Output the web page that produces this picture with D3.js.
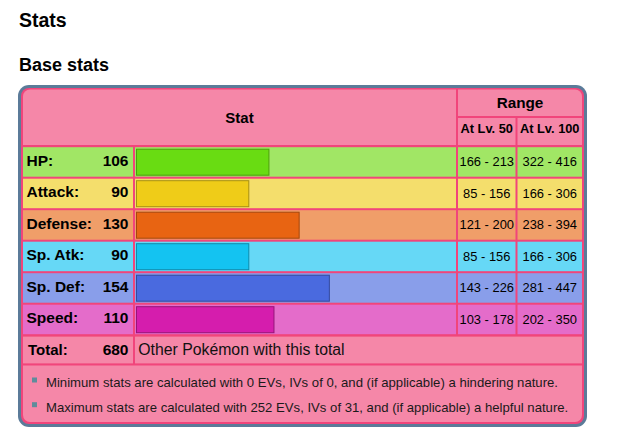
<!DOCTYPE html>
<html><head><meta charset="utf-8">
<script src="https://cdn.jsdelivr.net/npm/d3@7"></script>
<style>
body{margin:0;background:#fff;}
svg{display:block;font-family:"Liberation Sans", Arial, sans-serif;}
</style>
</head><body>
<svg id="c" width="637" height="431"></svg>
<script>
// ---------- data ----------
const stats = ["HP", "Attack", "Defense", "Sp. Atk", "Sp. Def", "Speed"];
const statLabels = ["HP:", "Attack:", "Defense:", "Sp. Atk:", "Sp. Def:", "Speed:"];
const baseValues = [106, 90, 130, 90, 154, 110];
const rangeLv50 = ["166 - 213", "85 - 156", "121 - 200", "85 - 156", "143 - 226", "103 - 178"];
const rangeLv100 = ["322 - 416", "166 - 306", "238 - 394", "166 - 306", "281 - 447", "202 - 350"];
const totalLabel = "Total:";
const totalValue = 680;
const totalLink = "Other Pokémon with this total";
const headers = ["Stat", "Range", "At Lv. 50", "At Lv. 100"];
const notes = [
  "Minimum stats are calculated with 0 EVs, IVs of 0, and (if applicable) a hindering nature.",
  "Maximum stats are calculated with 252 EVs, IVs of 31, and (if applicable) a helpful nature."
];
const titles = ["Stats", "Base stats"];
const maxStat = 255;

// ---------- style ----------
const rowColors = ["#A1E665", "#F4DE6C", "#F09E69", "#66D8F6", "#899EEA", "#E46CCA"];
const barColors = ["#69DC12", "#EFCC18", "#E86412", "#14C3F1", "#4A6ADF", "#D51DAD"];
const barStrokes = ["#4C9E0E", "#A88F12", "#A5470D", "#0E8BAD", "#34499F", "#96147A"];
const frameBlue = "#5B7B99";
const gridPink = "#F1457B";
const cellPink = "#F587A8";

const svg = d3.select("#c");

function rr(x, y, w, h, r) { // r = [tl,tr,br,bl]
  const [tl, tr, br, bl] = r;
  return `M${x+tl},${y}H${x+w-tr}` + (tr ? `A${tr},${tr} 0 0 1 ${x+w},${y+tr}` : "") +
    `V${y+h-br}` + (br ? `A${br},${br} 0 0 1 ${x+w-br},${y+h}` : "") +
    `H${x+bl}` + (bl ? `A${bl},${bl} 0 0 1 ${x},${y+h-bl}` : "") +
    `V${y+tl}` + (tl ? `A${tl},${tl} 0 0 1 ${x+tl},${y}` : "") + "Z";
}

// titles
svg.append("text").attr("x", 19).attr("y", 27.3).attr("font-size", 19.5).attr("font-weight", "bold").text(titles[0]);
svg.append("text").attr("x", 19).attr("y", 71).attr("font-size", 18).attr("font-weight", "bold").text(titles[1]);

// frame
svg.append("path").attr("d", rr(18, 85, 569, 342, [11, 11, 11, 11])).attr("fill", frameBlue);
svg.append("path").attr("d", rr(21, 88, 563, 336, [8, 8, 8, 8])).attr("fill", gridPink);

// columns
const colA = [23, 133], colB = [135, 456], colC = [458, 515.5], colD = [517.5, 582];

// header cells
svg.append("path").attr("d", rr(colA[0], 89.5, colB[1] - colA[0], 145 - 89.5, [7, 0, 0, 0])).attr("fill", cellPink);
svg.append("path").attr("d", rr(colC[0], 89.5, colD[1] - colC[0], 116 - 89.5, [0, 7, 0, 0])).attr("fill", cellPink);
svg.append("rect").attr("x", colC[0]).attr("y", 118).attr("width", colC[1] - colC[0]).attr("height", 27).attr("fill", cellPink);
svg.append("rect").attr("x", colD[0]).attr("y", 118).attr("width", colD[1] - colD[0]).attr("height", 27).attr("fill", cellPink);

svg.append("text").attr("x", (colA[0] + colB[1]) / 2).attr("y", 122.5).attr("text-anchor", "middle")
  .attr("font-size", 15).attr("font-weight", "bold").text(headers[0]);
svg.append("text").attr("x", (colC[0] + colD[1]) / 2).attr("y", 108.3).attr("text-anchor", "middle")
  .attr("font-size", 15.3).attr("font-weight", "bold").text(headers[1]);
svg.append("text").attr("x", (colC[0] + colC[1]) / 2).attr("y", 132.7).attr("text-anchor", "middle")
  .attr("font-size", 12.8).attr("font-weight", "bold").text(headers[2]);
svg.append("text").attr("x", (colD[0] + colD[1]) / 2).attr("y", 132.7).attr("text-anchor", "middle")
  .attr("font-size", 12.8).attr("font-weight", "bold").text(headers[3]);

// scales
const y = d3.scaleBand().domain(stats).range([147.2, 334.2]).paddingInner(2 / 31.5).paddingOuter(0);
const x = d3.scaleLinear().domain([0, maxStat]).range([0, colB[1] - colB[0]]);

const rows = svg.selectAll("g.row").data(stats).join("g").attr("class", "row")
  .attr("transform", d => `translate(0,${y(d)})`);
const bh = y.bandwidth();

[colA, colB, colC, colD].forEach(c => {
  rows.append("rect").attr("x", c[0]).attr("y", 0).attr("width", c[1] - c[0]).attr("height", bh)
    .attr("fill", (d, i) => rowColors[i]);
});

rows.append("rect")
  .attr("x", colB[0] + 1.5).attr("y", 2)
  .attr("width", (d, i) => x(baseValues[i]) - 1)
  .attr("height", bh - 3.5)
  .attr("fill", (d, i) => barColors[i])
  .attr("stroke", (d, i) => barStrokes[i]).attr("stroke-width", 1);

rows.append("text").attr("x", 26.5).attr("y", 18.7).attr("font-size", 15.5).attr("font-weight", "bold")
  .text((d, i) => statLabels[i]);
rows.append("text").attr("x", 128.5).attr("y", 18.7).attr("font-size", 15.5).attr("font-weight", "bold")
  .attr("text-anchor", "end").text((d, i) => baseValues[i]);
rows.append("text").attr("x", (colC[0] + colC[1]) / 2).attr("y", 19.3).attr("font-size", 12.9)
  .attr("text-anchor", "middle").text((d, i) => rangeLv50[i]);
rows.append("text").attr("x", (colD[0] + colD[1]) / 2).attr("y", 19.3).attr("font-size", 12.9)
  .attr("text-anchor", "middle").text((d, i) => rangeLv100[i]);

// total row
const tTop = 336.6, tH = 26.8;
svg.append("rect").attr("x", colA[0]).attr("y", tTop).attr("width", colA[1] - colA[0]).attr("height", tH).attr("fill", cellPink);
svg.append("rect").attr("x", colB[0]).attr("y", tTop).attr("width", colD[1] - colB[0]).attr("height", tH).attr("fill", cellPink);
svg.append("text").attr("x", 28).attr("y", 354.5).attr("font-size", 15).attr("font-weight", "bold").text(totalLabel);
svg.append("text").attr("x", 128.5).attr("y", 354.5).attr("font-size", 15.5).attr("font-weight", "bold")
  .attr("text-anchor", "end").text(totalValue);
svg.append("text").attr("x", 138.3).attr("y", 355).attr("font-size", 15.8).attr("fill", "#111").text(totalLink);

// footer
svg.append("path").attr("d", rr(colA[0], 365.5, colD[1] - colA[0], 422 - 365.5, [0, 0, 7, 7])).attr("fill", cellPink);
const noteY = [386.8, 411.5];
svg.selectAll("rect.bul").data(notes).join("rect").attr("class", "bul")
  .attr("x", 32).attr("y", (d, i) => noteY[i] - 9.3).attr("width", 5).attr("height", 5).attr("fill", "#5F8C9B");
svg.selectAll("text.note").data(notes).join("text").attr("class", "note")
  .attr("x", 46).attr("y", (d, i) => noteY[i]).attr("font-size", 13.15).attr("fill", "#1a1a1a").text(d => d);
</script>
</body></html>
